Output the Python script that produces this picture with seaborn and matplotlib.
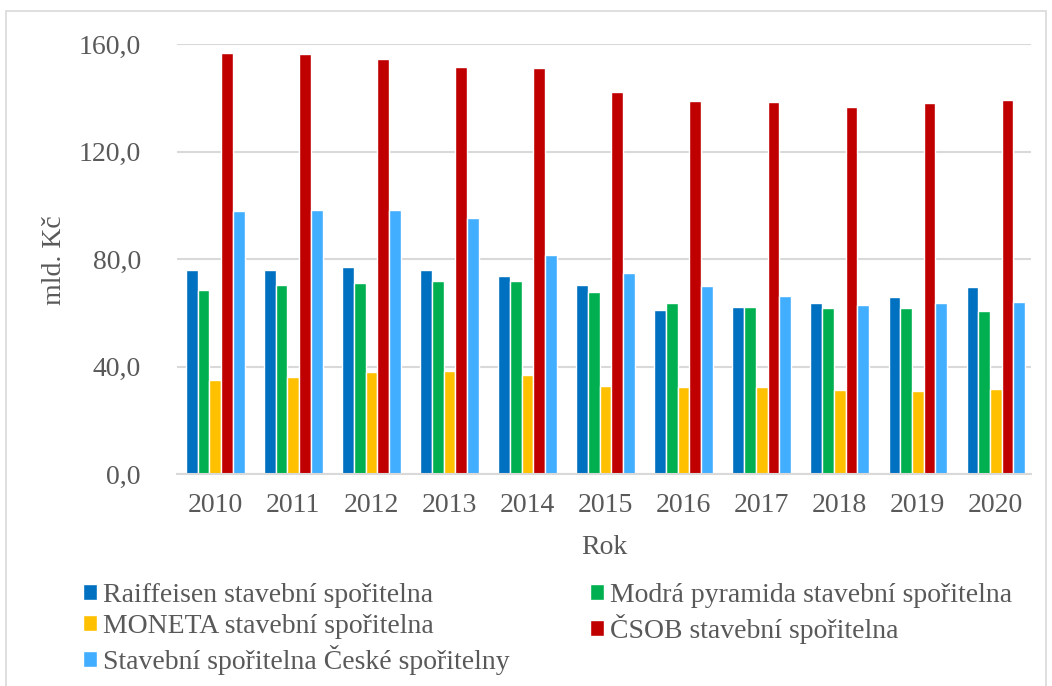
import matplotlib
matplotlib.use("Agg")
import matplotlib.pyplot as plt
import matplotlib.patches as mpatches
from matplotlib.font_manager import FontProperties
import seaborn as sns
import pandas as pd
from matplotlib.ticker import FuncFormatter

years = ["2010", "2011", "2012", "2013", "2014", "2015", "2016", "2017", "2018", "2019", "2020"]
series_names = [
    "Raiffeisen stavební spořitelna",
    "Modrá pyramida stavební spořitelna",
    "MONETA stavební spořitelna",
    "ČSOB stavební spořitelna",
    "Stavební spořitelna České spořitelny",
]
raiffeisen = [76.0, 75.8, 77.2, 75.9, 73.6, 70.3, 61.0, 62.1, 63.8, 66.0, 69.4]
modra = [68.3, 70.2, 71.2, 71.8, 72.0, 67.9, 63.6, 62.0, 61.8, 61.8, 60.7]
moneta = [35.1, 36.0, 37.8, 38.5, 37.0, 32.6, 32.5, 32.4, 31.3, 30.9, 31.8]
csob = [156.6, 156.3, 154.5, 151.5, 151.1, 142.0, 138.9, 138.6, 136.7, 138.2, 139.2]
ceska = [97.8, 98.3, 98.2, 95.2, 81.5, 74.8, 69.9, 66.3, 62.7, 63.7, 63.9]
colors = ["#0070C0", "#00B050", "#FFC000", "#C00000", "#41AEFF"]

all_vals = [raiffeisen, modra, moneta, csob, ceska]
rows = []
for name, vals in zip(series_names, all_vals):
    for y, v in zip(years, vals):
        rows.append({"Rok": y, "value": v, "series": name})
df = pd.DataFrame(rows)

sns.set_style("white")
plt.rcParams["font.family"] = ["Liberation Serif", "DejaVu Serif"]
text_color = "#595959"
grid_color = "#D9D9D9"

fig = plt.figure(figsize=(10.52, 6.86), dpi=100)
ax = fig.add_axes([177/1052, 1 - 474/686, (1031-177)/1052, (474-44)/686])

sns.barplot(data=df, x="Rok", y="value", hue="series", hue_order=series_names,
            order=years, palette=colors, width=0.75, edgecolor="white",
            linewidth=1.0, ax=ax, legend=True, saturation=1)

ax.set_ylim(0, 160)
ax.set_yticks([0, 40, 80, 120, 160])
ax.yaxis.set_major_formatter(FuncFormatter(lambda v, p: f"{v:.1f}".replace(".", ",")))
ax.set_xlim(-0.49, 10.45)
ax.grid(axis="y", color=grid_color, linewidth=1.5)
ax.set_axisbelow(True)
for s in ["top", "right", "left"]:
    ax.spines[s].set_visible(False)
ax.spines["bottom"].set_color(grid_color)
ax.spines["bottom"].set_linewidth(1.5)
ax.tick_params(axis="both", length=0, labelsize=20, colors=text_color)
ax.tick_params(axis="x", pad=14)
ax.tick_params(axis="y", pad=26)
ax.set_xlabel("Rok", fontsize=20, color=text_color)
ax.set_ylabel("mld. Kč", fontsize=20, color=text_color)
ax.xaxis.set_label_coords(0.5, (474 - 535) / 430)
ax.yaxis.set_label_coords((67 - 177) / 854, (474 - 260) / 430)

handles, labels = ax.get_legend_handles_labels()
ax.get_legend().remove()
prop = FontProperties(family=["Liberation Serif", "DejaVu Serif"], size=20)
common = dict(loc="upper left", frameon=False, prop=prop, handlelength=0.5,
              handleheight=0.5, handletextpad=0.22, labelspacing=0.22,
              labelcolor=text_color, borderaxespad=0, borderpad=0)
fig.legend([handles[i] for i in [0, 2, 4]], [labels[i] for i in [0, 2, 4]],
           bbox_to_anchor=(83/1052, 1 - 583/686), **common)
fig.legend([handles[i] for i in [1, 3]], [labels[i] for i in [1, 3]],
           bbox_to_anchor=(590/1052, 1 - 583/686), **common)

border = mpatches.Rectangle((6/1052, -0.02), (1046-6)/1052, 1 - 11/686 + 0.02,
                            transform=fig.transFigure, fill=False,
                            edgecolor="#D9D9D9", linewidth=1.2)
fig.patches.append(border)

fig.savefig("out.png", dpi=100)
